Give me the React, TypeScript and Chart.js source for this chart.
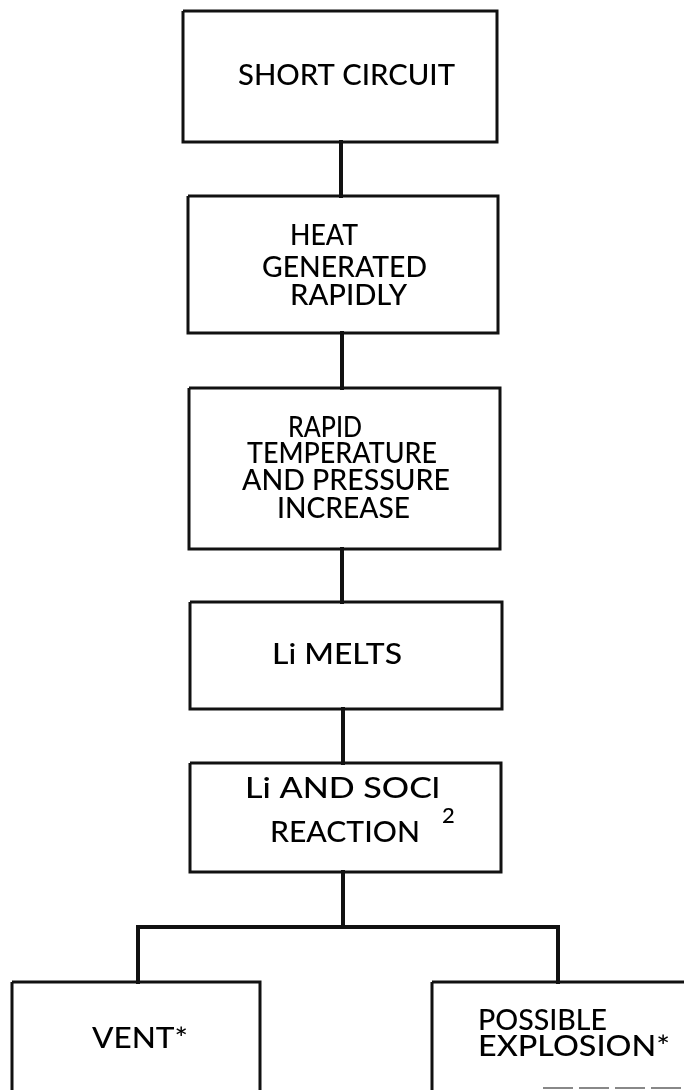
import React, { useEffect, useRef } from "react";
import { Chart, registerables } from "chart.js";

Chart.register(...registerables);

// ---- content ----
const boxLabels: string[][] = [
  ["SHORT CIRCUIT"],
  ["HEAT", "GENERATED", "RAPIDLY"],
  ["RAPID", "TEMPERATURE", "AND PRESSURE", "INCREASE"],
  ["Li MELTS"],
  ["Li AND SOCl", "REACTION"],
  ["VENT*"],
  ["POSSIBLE", "EXPLOSION*"],
];
const subscriptLabels: string[] = ["2"];

// ---- layout (chart units = page pixels) ----
const boxRects: number[][] = [
  [183, 11, 497, 142],
  [188, 196, 498, 333],
  [189, 388, 500, 549],
  [190, 602, 502, 709],
  [190, 763, 501, 872],
  [12, 982, 260, 1110],
  [432, 982, 710, 1110],
];
// [left, right, baseline] of each text line
const lineSpans: number[][][] = [
  [[238, 455, 85]],
  [[290, 358, 245], [262, 427, 277], [290, 407, 305]],
  [[288, 362, 437], [247, 437, 463], [242, 450, 490], [277, 410, 518]],
  [[272, 402, 664]],
  [[245, 440, 798], [270, 420, 842]],
  [[92, 188, 1048]],
  [[478, 607, 1030], [478, 670, 1056]],
];
const subscriptAnchors: number[][] = [[442, 823]];
const connectors: number[][] = [
  [341, 142, 341, 196],
  [342, 333, 342, 388],
  [342, 549, 342, 602],
  [343, 709, 343, 763],
  [343, 872, 343, 927],
  [138, 927, 558, 927],
  [138, 927, 138, 982],
  [558, 927, 558, 982],
];
// faint, partly visible bottom edge of the right box
const faintEdges: number[][] = [[543, 1088, 684, 1088]];

const FONT = "Lato, 'DejaVu Sans', sans-serif";

const textPlugin = {
  id: "flowText",
  afterDatasetsDraw(chart: any) {
    const { ctx, scales } = chart;
    const xs = scales.x;
    const ys = scales.y;
    ctx.save();
    ctx.fillStyle = "#000";
    ctx.textBaseline = "alphabetic";
    ctx.textAlign = "left";
    ctx.font = `500 28px ${FONT}`;
    boxLabels.forEach((lines, i) => {
      lines.forEach((t, j) => {
        const [l, r, b] = lineSpans[i][j];
        const px1 = xs.getPixelForValue(l);
        const px2 = xs.getPixelForValue(r);
        const w = ctx.measureText(t).width;
        const k = Math.max(0.85, Math.min(1.35, (px2 - px1) / w));
        ctx.save();
        ctx.translate(px1, ys.getPixelForValue(b));
        ctx.scale(k, 1);
        ctx.fillText(t, 0, 0);
        ctx.restore();
      });
    });
    ctx.font = `500 22px ${FONT}`;
    subscriptLabels.forEach((t, i) => {
      const a = subscriptAnchors[i];
      ctx.fillText(t, xs.getPixelForValue(a[0]), ys.getPixelForValue(a[1]));
    });
    ctx.restore();
  },
};

export default function App() {
  const ref = useRef<HTMLCanvasElement | null>(null);
  useEffect(() => {
    document.body.style.margin = "0";
    if (!ref.current) return;
    const boxSets = boxRects.map(([x1, y1, x2, y2]) => ({
      data: [
        { x: x1, y: y1 },
        { x: x2, y: y1 },
        { x: x2, y: y2 },
        { x: x1, y: y2 },
        { x: x1, y: y1 },
      ],
      showLine: true,
      borderColor: "#111",
      borderWidth: 3,
      pointRadius: 0,
      fill: false,
      tension: 0,
      borderJoinStyle: "miter" as const,
    }));
    const connSets = connectors.map(([x1, y1, x2, y2]) => ({
      data: [
        { x: x1, y: y1 },
        { x: x2, y: y2 },
      ],
      showLine: true,
      borderColor: "#111",
      borderWidth: 4,
      pointRadius: 0,
      fill: false,
      borderCapStyle: "square" as const,
    }));
    const faintSets = faintEdges.map(([x1, y1, x2, y2]) => ({
      data: [
        { x: x1, y: y1 },
        { x: x2, y: y2 },
      ],
      showLine: true,
      borderColor: "#888",
      borderWidth: 2,
      borderDash: [30, 6],
      pointRadius: 0,
      fill: false,
    }));
    const chart = new Chart(ref.current, {
      type: "scatter",
      data: { datasets: [...boxSets, ...connSets, ...faintSets] as any },
      options: {
        animation: false,
        responsive: true,
        maintainAspectRatio: false,
        layout: { padding: 0 },
        plugins: { legend: { display: false }, tooltip: { enabled: false } },
        events: [],
        scales: {
          x: { type: "linear", min: 0, max: 684, display: false },
          y: { type: "linear", min: 0, max: 1090, reverse: true, display: false },
        },
      },
      plugins: [textPlugin],
    });
    return () => chart.destroy();
  }, []);
  return (
    <div style={{ position: "fixed", left: 0, top: 0, width: 684, height: 1090, background: "#fff" }}>
      <canvas ref={ref} />
    </div>
  );
}
